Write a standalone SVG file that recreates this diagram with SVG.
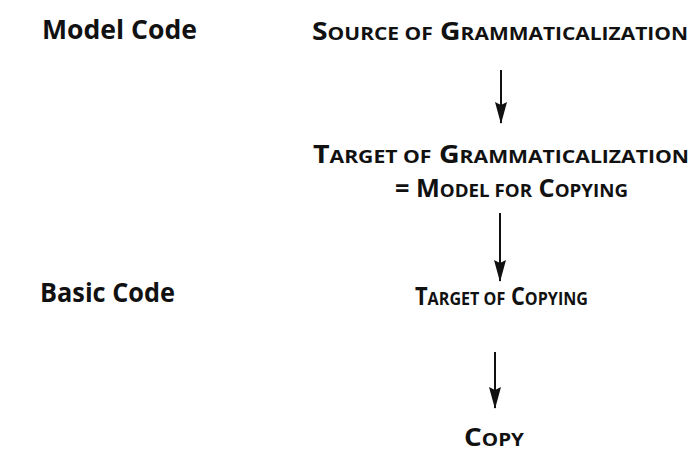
<svg xmlns="http://www.w3.org/2000/svg" width="694" height="455" viewBox="0 0 694 455">
  <style>
    text { font-family: "Open Sans", "Noto Sans", "DejaVu Sans", sans-serif; font-weight: 700; fill: #111; }
    .label { font-size: 27px; }
    .sc { font-size: 25px; }
    .sm { font-size: 18.5px; }
    .conn line { stroke: #111; stroke-width: 2; }
  </style>
  <defs>
    <!-- slim filled arrowhead, drawn along +x so orient="auto" follows the line -->
    <marker id="arrow" viewBox="0 0 22 12" refX="21" refY="6" markerWidth="22" markerHeight="12" markerUnits="userSpaceOnUse" orient="auto">
      <path d="M0,0 L22,6 L0,12 L3,6 Z" fill="#111"/>
    </marker>
  </defs>

  <rect width="694" height="455" fill="#fff"/>

  <!-- level labels -->
  <g id="model-code">
    <text class="label" x="42" y="39" textLength="155" lengthAdjust="spacingAndGlyphs">Model Code</text>
  </g>
  <g id="basic-code">
    <text class="label" x="40" y="302" textLength="135" lengthAdjust="spacingAndGlyphs">Basic Code</text>
  </g>

  <!-- chain of nodes -->
  <g id="source">
    <text class="sc" x="312" y="40" textLength="376" lengthAdjust="spacingAndGlyphs">S<tspan class="sm">OURCE OF</tspan> G<tspan class="sm">RAMMATICALIZATION</tspan></text>
  </g>
  <g id="target-gram">
    <text class="sc" x="313" y="163" textLength="376" lengthAdjust="spacingAndGlyphs">T<tspan class="sm">ARGET OF</tspan> G<tspan class="sm">RAMMATICALIZATION</tspan></text>
    <text class="sc" x="395" y="197" textLength="233" lengthAdjust="spacingAndGlyphs">= M<tspan class="sm">ODEL FOR</tspan> C<tspan class="sm">OPYING</tspan></text>
  </g>
  <g id="target-copy">
    <text class="sc" x="415" y="305" textLength="173" lengthAdjust="spacingAndGlyphs">T<tspan class="sm">ARGET OF</tspan> C<tspan class="sm">OPYING</tspan></text>
  </g>
  <g id="copy">
    <text class="sc" x="464" y="446" textLength="60" lengthAdjust="spacingAndGlyphs">C<tspan class="sm">OPY</tspan></text>
  </g>

  <!-- connectors -->
  <g class="conn" id="connectors">
    <line x1="501" y1="70" x2="501" y2="123" marker-end="url(#arrow)"/>
    <line x1="500" y1="213" x2="500" y2="281" marker-end="url(#arrow)"/>
    <line x1="495" y1="352" x2="495" y2="408" marker-end="url(#arrow)"/>
  </g>
</svg>
